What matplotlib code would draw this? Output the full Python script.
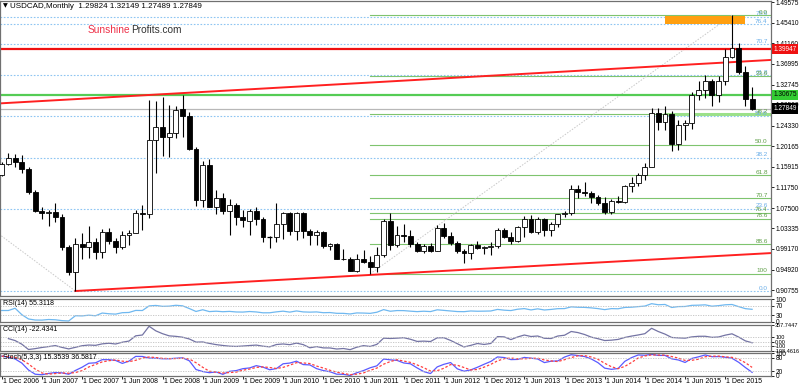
import matplotlib
matplotlib.use("Agg")
import matplotlib.pyplot as plt
import numpy as np
import pandas as pd
from matplotlib.transforms import blended_transform_factory

plt.rcParams['font.family'] = ['Liberation Sans', 'DejaVu Sans']

# ---------------- data (monthly USDCAD, Dec 2006 .. Apr 2016) ----------------
opens = [1.1433,1.1652,1.1780,1.1700,1.1540,1.1080,1.0700,1.0650,1.0680,1.0560,
         0.9946,0.9440,1.0010,0.9955,1.0050,0.9860,1.0270,1.0070,0.9960,1.0200,
         1.0240,1.0640,1.0620,1.2150,1.2400,1.2200,1.2290,1.2780,1.2630,1.1960,
         1.0920,1.1630,1.0780,1.0950,1.0700,1.0820,1.0560,1.0490,1.0700,1.0520,
         1.0150,1.0160,1.0430,1.0640,1.0290,1.0660,1.0290,1.0200,1.0260,0.9970,
         1.0010,0.9720,0.9700,0.9470,0.9700,0.9650,0.9550,0.9790,1.0490,0.9990,
         1.0200,1.0180,1.0020,0.9880,0.9980,0.9880,1.0340,1.0190,1.0030,0.9870,
         0.9840,0.9990,0.9930,0.9950,0.9980,1.0310,1.0160,1.0080,1.0370,1.0520,
         1.0270,1.0530,1.0300,1.0430,1.0620,1.0640,1.1140,1.1070,1.1050,1.0970,
         1.0850,1.0670,1.0905,1.0875,1.1200,1.1270,1.1430,1.1600,1.2700,1.2510,
         1.2670,1.2070,1.2440,1.2490,1.3070,1.3160,1.3350,1.3070,1.3350,1.3840,
         1.4020,1.3540,1.29824]
highs = [1.1690,1.1878,1.1853,1.1830,1.1590,1.1120,1.0780,1.0720,1.0850,1.0630,
         1.0000,1.0130,1.0250,1.0390,1.0140,1.0320,1.0340,1.0140,1.0280,1.0300,
         1.0710,1.0820,1.2969,1.2935,1.3017,1.2850,1.2840,1.3065,1.2720,1.1990,
         1.1720,1.1750,1.1110,1.1050,1.0940,1.0850,1.0720,1.0740,1.0780,1.0560,
         1.0170,1.0860,1.0680,1.0680,1.0680,1.0680,1.0330,1.0300,1.0290,1.0030,
         1.0040,0.9920,0.9760,0.9820,0.9900,0.9770,0.9960,1.0520,1.0660,1.0380,
         1.0420,1.0300,1.0050,1.0010,1.0040,1.0400,1.0450,1.0270,1.0080,0.9920,
         1.0010,1.0070,0.9980,1.0050,1.0350,1.0350,1.0270,1.0380,1.0580,1.0610,
         1.0570,1.0550,1.0460,1.0630,1.0700,1.1220,1.1220,1.1280,1.1100,1.1010,
         1.0980,1.0940,1.0990,1.1230,1.1390,1.1470,1.1680,1.2800,1.2800,1.2840,
         1.2730,1.2560,1.2560,1.3120,1.3350,1.3460,1.3380,1.3450,1.4000,1.4690,
         1.4130,1.3660,1.32149]
lows = [1.1410,1.1630,1.1580,1.1470,1.1035,1.0680,1.0530,1.0380,1.0470,0.9900,
        0.9375,0.9056,0.9710,0.9730,0.9720,0.9730,1.0020,0.9840,0.9920,1.0000,
        1.0240,1.0310,1.0550,1.1465,1.1820,1.1800,1.2180,1.2200,1.1935,1.0800,
        1.0780,1.0770,1.0630,1.0620,1.0206,1.0400,1.0360,1.0200,1.0400,1.0050,
        0.9930,1.0060,1.0120,1.0210,1.0100,1.0140,1.0000,1.0000,0.9930,0.9900,
        0.9700,0.9680,0.9460,0.9440,0.9620,0.9406,0.9450,0.9750,0.9900,0.9960,
        1.0060,0.9960,0.9850,0.9840,0.9850,0.9880,1.0130,1.0000,0.9840,0.9633,
        0.9710,0.9910,0.9810,0.9800,0.9940,1.0140,1.0010,1.0060,1.0160,1.0250,
        1.0220,1.0180,1.0180,1.0370,1.0570,1.0600,1.0950,1.0990,1.0860,1.0810,
        1.0620,1.0620,1.0860,1.0860,1.1080,1.1210,1.1320,1.1580,1.2350,1.2340,
        1.1920,1.1940,1.2140,1.2370,1.2950,1.3000,1.2830,1.2920,1.3270,1.3820,
        1.3500,1.2830,1.27489]
closes = [1.1652,1.1780,1.1700,1.1540,1.1080,1.0700,1.0650,1.0680,1.0560,0.9946,
          0.9440,1.0025,0.9955,1.0050,0.9860,1.0270,1.0070,0.9960,1.0200,1.0240,
          1.0640,1.0620,1.2150,1.2400,1.2200,1.2290,1.2750,1.2630,1.1960,1.0920,
          1.1630,1.0780,1.0950,1.0700,1.0820,1.0560,1.0510,1.0700,1.0520,1.0150,
          1.0160,1.0430,1.0640,1.0290,1.0660,1.0290,1.0200,1.0260,0.9970,1.0010,
          0.9720,0.9700,0.9470,0.9700,0.9650,0.9550,0.9790,1.0490,0.9990,1.0200,
          1.0180,1.0020,0.9880,0.9980,0.9880,1.0340,1.0190,1.0030,0.9870,0.9840,
          0.9990,0.9930,0.9950,0.9980,1.0310,1.0160,1.0080,1.0370,1.0520,1.0270,
          1.0530,1.0300,1.0430,1.0620,1.0640,1.1140,1.1070,1.1050,1.0970,1.0850,
          1.0670,1.0900,1.0875,1.1200,1.1270,1.1430,1.1600,1.2700,1.2510,1.2670,
          1.2070,1.2440,1.2490,1.3070,1.3160,1.3350,1.3070,1.3350,1.3840,1.4020,
          1.3540,1.2985,1.27849]

date_labels = ["1 Dec 2006", "1 Jun 2007", "1 Dec 2007", "1 Jun 2008", "1 Dec 2008",
               "1 Jun 2009", "1 Dec 2009", "1 Jun 2010", "1 Dec 2010", "1 Jun 2011",
               "1 Dec 2011", "1 Jun 2012", "1 Dec 2012", "1 Jun 2013", "1 Dec 2013",
               "1 Jun 2014", "1 Dec 2014", "1 Jun 2015", "1 Dec 2015"]
date_label_idx = list(range(0, 109, 6))

price_ticks = [1.49575, 1.45410, 1.41160, 1.36995, 1.32745, 1.28580, 1.24330, 1.20165,
               1.15915, 1.11750, 1.07500, 1.03335, 0.99170, 0.94920, 0.90755]

title_text = "USDCAD,Monthly  1.29824 1.32149 1.27489 1.27849"
rsi_label = "RSI(14) 55.3118"
cci_label = "CCI(14) -22.4341"
stoch_label = "Stoch(5,3,3) 15.3539 36.5817"
cci_max, cci_min = 357.7447, -198.4616

# horizontal levels
red_level = 1.39947
green_level = 1.30675
last_close = 1.27849

# fibonacci sets
fib_pcts = [0.0, 23.6, 38.2, 50.0, 61.8, 70.7, 76.4, 78.6, 88.6, 100.0]
fib_labels = ["0.0", "23.6", "38.2", "50.0", "61.8", "70.7", "76.4", "78.6", "88.6", "100"]
green_fib_high, green_fib_low = 1.4690, 0.9406      # 0.0 at high, 100 at low
green_fib_start = 55                                # Jul 2011
blue_fib_low, blue_fib_high = 0.9056, 1.6190        # 0.0 at low
blue_fib_from = (-59, 1.6190)
blue_fib_to = (11, 0.9056)
green_fib_from = (55, 0.9406)
green_fib_to = (109, 1.4690)

upper_trend = [(0, 1.2892), (112, 1.3756)]
lower_trend = [(11, 0.9056), (112, 0.9810)]
support_band = (99, 1.2672)
orange_box = (99.0, 111.0, 1.4515, 1.4680)

# ---------------- indicators from the price series ----------------
o = np.array(opens); h = np.array(highs); l = np.array(lows); c = np.array(closes)
n = len(c)
idx = np.arange(n)
cs = pd.Series(c); hs = pd.Series(h); ls = pd.Series(l)

d = cs.diff()
up = d.clip(lower=0).fillna(0)
dn = (-d).clip(lower=0).fillna(0)
au = up.ewm(alpha=1/14, adjust=False).mean()
ad = dn.ewm(alpha=1/14, adjust=False).mean()
rsi = 100 - 100 / (1 + au / ad.replace(0, np.nan))
rsi = rsi.fillna(50)

tp = (hs + ls + cs) / 3
sma = tp.rolling(14, min_periods=2).mean()
md = tp.rolling(14, min_periods=2).apply(lambda x: np.mean(np.abs(x - x.mean())), raw=True)
cci = (tp - sma) / (0.015 * md)

ll = ls.rolling(5, min_periods=1).min()
hh = hs.rolling(5, min_periods=1).max()
num = (cs - ll).rolling(3, min_periods=1).sum()
den = (hh - ll).rolling(3, min_periods=1).sum()
stk = 100 * num / den
std = stk.rolling(3, min_periods=1).mean()

# ---------------- figure layout (pixel based) ----------------
W, H = 800, 387
fig = plt.figure(figsize=(W / 100, H / 100), dpi=100)
fig.patch.set_facecolor('white')

def px_axes(left, top, right, bottom):
    return fig.add_axes([left / W, 1 - bottom / H, (right - left) / W, (bottom - top) / H])

X0, DX = 1.7, 6.7
PR = 771
xlim = (-X0 / DX, (PR - X0) / DX)

ax = px_axes(0, 1, PR, 296)
ax_rsi = px_axes(0, 299, PR, 322)
ax_cci = px_axes(0, 325, PR, 351)
ax_sto = px_axes(0, 353, PR, 376)

AXFS = 4.7
for a in (ax, ax_rsi, ax_cci, ax_sto):
    a.set_xlim(*xlim)
    a.set_xticks([])
    a.yaxis.tick_right()
    a.tick_params(axis='y', direction='out', length=2, width=0.6, pad=1.2,
                  labelsize=AXFS, colors='black')
    for s in a.spines.values():
        s.set_color('#707070')
        s.set_linewidth(0.9)

# main price axis
ax.set_ylim(0.8954, 1.4982)
ax.set_yticks(price_ticks)
ax.set_yticklabels([f"{v:.5f}" for v in price_ticks])

# blue fib lines (full width, dotted)
brange = blue_fib_high - blue_fib_low
for p, lab in zip(fib_pcts, fib_labels):
    lv = blue_fib_low + p / 100 * brange
    if lv > 1.4982:
        continue
    ax.axhline(lv, color='#8ec5f2', lw=0.8, ls=(0, (1.5, 1.5)), zorder=1)
    ax.text(xlim[1] - 0.5, lv + 0.001, lab, ha='right', va='bottom', fontsize=4.6,
            color='#6aaee8', zorder=2)

# green fib lines
grange = green_fib_high - green_fib_low
for p, lab in zip(fib_pcts, fib_labels):
    lv = green_fib_high - p / 100 * grange
    ax.plot([green_fib_start, xlim[1]], [lv, lv], color='#7fc46e', lw=0.8, zorder=1)
    ax.text(xlim[1] - 0.5, lv + 0.001, lab, ha='right', va='bottom', fontsize=4.6,
            color='#5e9e47', zorder=2)

# fib trend (dotted diagonals)
ax.plot([blue_fib_from[0], blue_fib_to[0]], [blue_fib_from[1], blue_fib_to[1]],
        color='#c8c8c8', lw=0.7, ls=(0, (1.5, 1.5)), zorder=1)
ax.plot([green_fib_from[0], green_fib_to[0]], [green_fib_from[1], green_fib_to[1]],
        color='#c8c8c8', lw=0.7, ls=(0, (1.5, 1.5)), zorder=1)

# support band, horizontal lines
ax.plot([support_band[0], xlim[1]], [support_band[1]] * 2, color='#9be08a', lw=2.2, zorder=1)
ax.axhline(last_close, color='#b8b8b8', lw=0.9, zorder=1)
ax.axhline(green_level, color='#55cc55', lw=1.6, zorder=2)
ax.axhline(red_level, color='#ee1111', lw=1.6, zorder=2)

# trend lines
xs0 = [xlim[0], xlim[1]]
slope_u = (upper_trend[1][1] - upper_trend[0][1]) / (upper_trend[1][0] - upper_trend[0][0])
ax.plot(xs0, [upper_trend[0][1] + slope_u * (x - upper_trend[0][0]) for x in xs0],
        color='#ff2020', lw=1.4, zorder=2)
slope_l = (lower_trend[1][1] - lower_trend[0][1]) / (lower_trend[1][0] - lower_trend[0][0])
xs1 = [lower_trend[0][0], xlim[1]]
ax.plot(xs1, [lower_trend[0][1] + slope_l * (x - lower_trend[0][0]) for x in xs1],
        color='#ff2020', lw=1.4, zorder=2)

# orange box
ax.fill_between([orange_box[0], orange_box[1]], orange_box[2], orange_box[3],
                color='#ff9f10', lw=0, zorder=2)

# candles
bw = 0.72
for i in range(n):
    ax.vlines(i, l[i], h[i], color='black', lw=0.8, zorder=3)
    bottom = min(o[i], c[i])
    height = abs(c[i] - o[i])
    if height < 0.0015:
        ax.hlines((o[i] + c[i]) / 2, i - bw / 2, i + bw / 2, color='black', lw=0.9, zorder=4)
    else:
        fc = 'white' if c[i] >= o[i] else 'black'
        ax.bar(i, height, bw, bottom=bottom, facecolor=fc, edgecolor='black',
               linewidth=0.6, zorder=4)

# price boxes on the axis
bt = blended_transform_factory(ax.transAxes, ax.transData)
for val, fc, tc in [(red_level, '#ee1111', 'white'), (green_level, '#33cc33', 'black'),
                    (last_close, 'black', 'white')]:
    ax.text(1.003, val, f"{val:.5f}", transform=bt, ha='left', va='center', fontsize=AXFS,
            color=tc, zorder=6, clip_on=False,
            bbox=dict(boxstyle='square,pad=0.25', facecolor=fc, edgecolor='none'))

# title and watermark
fig.text(3 / W, 1 - 6 / H, "\u25bc", fontsize=4.5, family='DejaVu Sans', va='center', ha='left')
fig.text(10 / W, 1 - 6 / H, title_text, fontsize=5.8, va='center', ha='left')
t1 = fig.text(88 / W, 1 - 30 / H, "Sunshine", fontsize=7.3, color='#ee3048', va='center', ha='left')
fig.canvas.draw()
bb = t1.get_window_extent()
fig.text(bb.x1 / W, 1 - 30 / H, "Profits.com", fontsize=7.3, color='#333333', va='center', ha='left')

# RSI
ax_rsi.plot(idx, rsi, color='#6fb8f0', lw=0.9)
ax_rsi.set_ylim(0, 100)
for lv in (70, 30):
    ax_rsi.axhline(lv, color='#c0c0c0', lw=0.6, ls=(0, (1.5, 1.5)))
ax_rsi.set_yticks([100, 70, 30, 0])
ax_rsi.set_yticklabels(["100", "70", "30", "0"])
ax_rsi.text(3 / PR, 0.96, rsi_label, transform=ax_rsi.transAxes, fontsize=5.0, va='top', ha='left')

# CCI
ax_cci.plot(idx, cci, color='#7474a4', lw=0.9)
ax_cci.set_ylim(cci_min, cci_max)
for lv in (100, 0, -100):
    ax_cci.axhline(lv, color='#c0c0c0', lw=0.6, ls=(0, (1.5, 1.5)))
ax_cci.set_yticks([cci_max, 100, 0, -100, cci_min])
ax_cci.set_yticklabels([f"{cci_max:.4f}", "100", "0.00", "-100", f"{cci_min:.4f}"])
ax_cci.tick_params(axis='y', labelsize=4.0, pad=1.0)
ax_cci.text(3 / PR, 0.96, cci_label, transform=ax_cci.transAxes, fontsize=5.0, va='top', ha='left')

# Stochastic
ax_sto.plot(idx, stk, color='#5a5aff', lw=0.9)
ax_sto.plot(idx, std, color='#ff4040', lw=0.9, ls=(0, (2, 1.5)))
ax_sto.set_ylim(0, 100)
for lv in (80, 20):
    ax_sto.axhline(lv, color='#c0c0c0', lw=0.6, ls=(0, (1.5, 1.5)))
ax_sto.set_yticks([100, 80, 20, 0])
ax_sto.set_yticklabels(["100", "80", "20", "0"])
ax_sto.text(3 / PR, 0.96, stoch_label, transform=ax_sto.transAxes, fontsize=5.0, va='top', ha='left')

# date axis
ax_sto.set_xticks(date_label_idx)
ax_sto.set_xticklabels([])
ax_sto.tick_params(axis='x', direction='out', length=2, width=0.6)
for i, lab in zip(date_label_idx, date_labels):
    xp = X0 + DX * i
    fig.text((xp + 1) / W, 1 - 381.5 / H, lab, fontsize=5.0, ha='left', va='center')

fig.savefig("out.png", dpi=100, facecolor='white')
